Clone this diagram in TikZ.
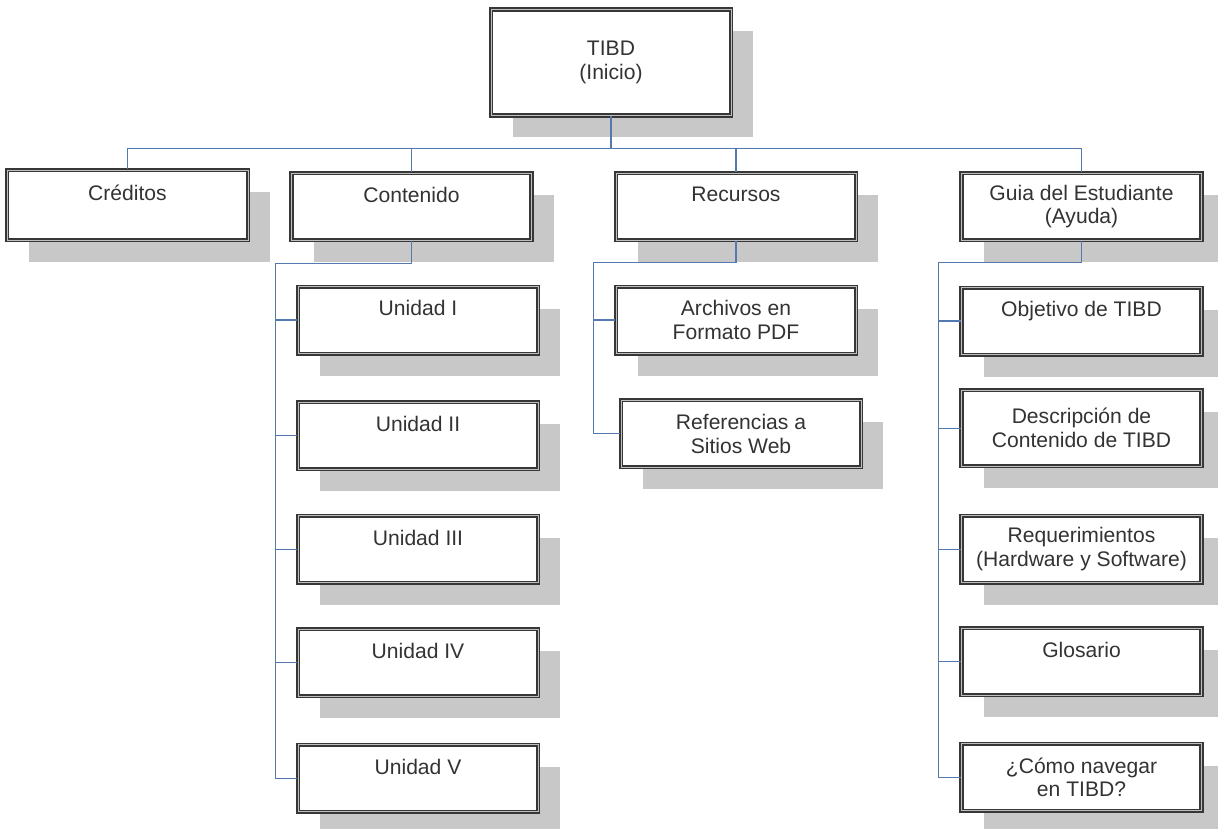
\documentclass[tikz,border=0pt]{standalone}
\usepackage{fontspec}
\setmainfont{Liberation Sans}
\usetikzlibrary{positioning,shadows}
\definecolor{framegray}{RGB}{55,55,55}
\definecolor{shadowgray}{RGB}{200,200,200}
\definecolor{linkblue}{RGB}{84,120,176}
\definecolor{textgray}{RGB}{51,51,51}

\begin{document}
\begin{tikzpicture}[
    box/.style={rectangle, draw=framegray, line width=0.9pt, double=gray!50, double distance=0.5pt,
        fill=white, minimum width=4.8cm, minimum height=1.34cm, align=center, text=textgray,
        font=\fontsize{12}{13.5}\selectfont,
        drop shadow={shadow xshift=0.44cm, shadow yshift=-0.44cm, fill=shadowgray, opacity=1}},
    link/.style={draw=linkblue, line width=0.7pt},
    node distance=0.9cm
]
    \useasboundingbox (0,0) rectangle (24.36,-16.58);

    \node[box, minimum height=2.12cm] (ini) at (12.22,-1.25) {TIBD\\(Inicio)};
    \node[box, minimum height=1.40cm, minimum width=4.82cm] (cre) at (2.55,-4.10) {Créditos\\~};
    \node[box] (con) at (8.23,-4.13) {Contenido\\~};
    \node[box] (rec) at (14.72,-4.13) {Recursos\\~};
    \node[box] (gui) at (21.63,-4.13) {Guia del Estudiante\\(Ayuda)};

    \node[box, below=of con, xshift=0.13cm] (u1) {Unidad I\\~};
    \node[box, below=0.94cm of u1] (u2) {Unidad II\\~};
    \node[box, below=of u2] (u3) {Unidad III\\~};
    \node[box, below=of u3] (u4) {Unidad IV\\~};
    \node[box, below=0.94cm of u4] (u5) {Unidad V\\~};

    \node[box, below=of rec] (r1) {Archivos en\\Formato PDF};
    \node[box, below=of r1, xshift=0.1cm] (r2) {Referencias a\\Sitios Web};

    \node[box, below=0.92cm of gui] (g1) {Objetivo de TIBD\\~};
    \node[box, below=0.68cm of g1, minimum height=1.52cm] (g2) {Descripción de\\Contenido de TIBD};
    \node[box, below=0.96cm of g2] (g3) {Requerimientos\\(Hardware y Software)};
    \node[box, below=0.88cm of g3] (g4) {Glosario\\~};
    \node[box, below=0.94cm of g4] (g5) {¿Cómo navegar\\en TIBD?};

    \draw[link] (ini.south) -- ++(0,-0.64) coordinate (bus);
    \draw[link] (cre.north) |- (bus) -| (gui.north);
    \draw[link] (con.north) -- (con.north |- bus);
    \draw[link] (rec.north) -- (rec.north |- bus);

    \coordinate[left=0.44cm of u1.west] (ct);
    \draw[link] (con.south) -- ++(0,-0.46) -| (ct |- u5.west) -- (u5.west);
    \foreach \n in {u1,u2,u3,u4}
        \draw[link] (ct |- \n.west) -- (\n.west);

    \coordinate[left=0.44cm of r1.west] (rt);
    \draw[link] (rec.south) -- ++(0,-0.44) -| (rt |- r2.west) -- (r2.west);
    \draw[link] (rt |- r1.west) -- (r1.west);

    \coordinate[left=0.44cm of g1.west] (gt);
    \draw[link] (gui.south) -- ++(0,-0.44) -| (gt |- g5.west) -- (g5.west);
    \foreach \n in {g1,g2,g3,g4}
        \draw[link] (gt |- \n.west) -- (\n.west);
\end{tikzpicture}
\end{document}
